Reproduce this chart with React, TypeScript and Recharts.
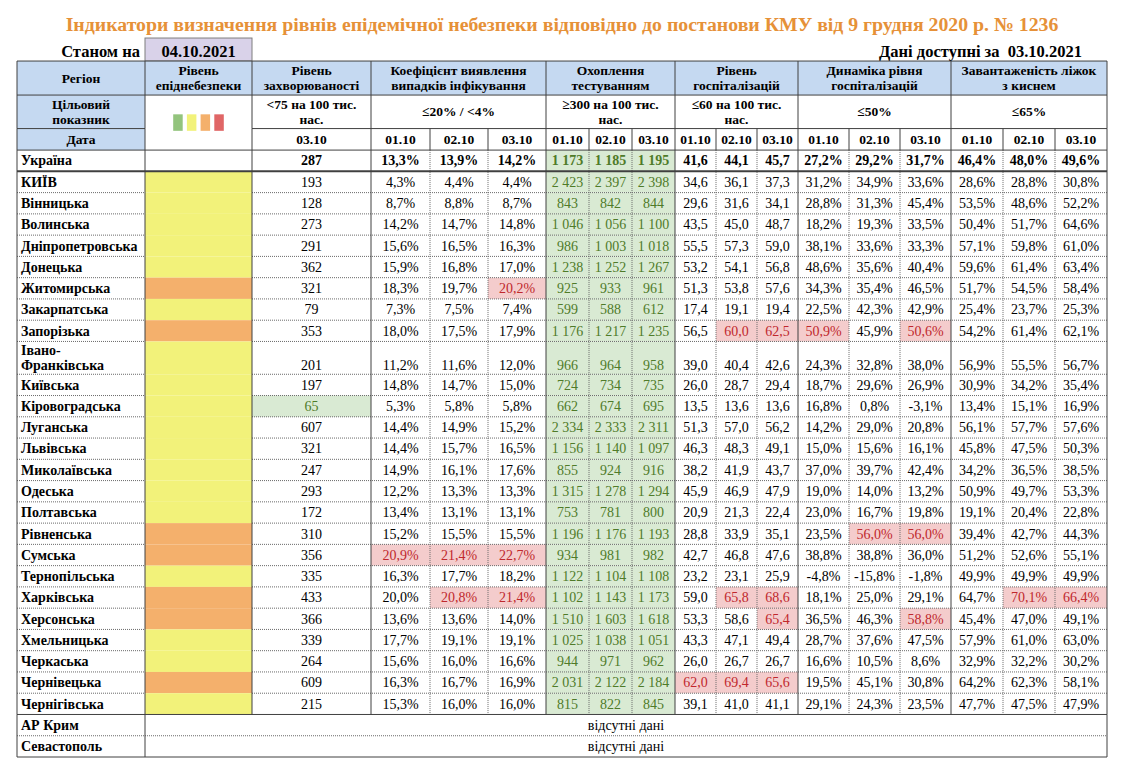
import React from 'react';
import { ComposedChart, XAxis, YAxis, ReferenceArea, ReferenceLine } from 'recharts';

// ---------- texts ----------
const TITLE = 'Індикатори визначення рівнів епідемічної небезпеки відповідно до постанови КМУ від 9 грудня 2020 р. № 1236';
const AS_OF_LABEL = 'Станом на';
const AS_OF_DATE = '04.10.2021';
const DATA_AVAILABLE = 'Дані доступні за \u00A003.10.2021';
const REGION_HEADER = 'Регіон';
const TARGET_HEADER = ['Цільовий', 'показник'];
const DATE_HEADER = 'Дата';
const MISSING_TEXT = 'відсутні дані';

const groupHeaders = [
  ['Рівень', 'епіднебезпеки'],
  ['Рівень', 'захворюваності'],
  ['Коефіцієнт виявлення', 'випадків інфікування'],
  ['Охоплення', 'тестуванням'],
  ['Рівень', 'госпіталізацій'],
  ['Динаміка рівня', 'госпіталізацій'],
  ['Завантаженість ліжок', 'з киснем'],
];
const targets = [
  ['<75 на 100 тис.', 'нас.'],
  ['≤20% / <4%'],
  ['≥300 на 100 тис.', 'нас.'],
  ['≤60 на 100 тис.', 'нас.'],
  ['≤50%'],
  ['≤65%'],
];
const incidenceDate = '03.10';
const dates = ['01.10', '02.10', '03.10'];

// ---------- data ----------
const regions = [
  'Україна', 'КИЇВ', 'Вінницька', 'Волинська', 'Дніпропетровська', 'Донецька', 'Житомирська',
  'Закарпатська', 'Запорізька', 'Івано-Франківська', 'Київська', 'Кіровоградська', 'Луганська',
  'Львівська', 'Миколаївська', 'Одеська', 'Полтавська', 'Рівненська', 'Сумська', 'Тернопільська',
  'Харківська', 'Херсонська', 'Хмельницька', 'Черкаська', 'Чернівецька', 'Чернігівська',
];
const dangerLevels = [
  'none', 'yellow', 'yellow', 'yellow', 'yellow', 'yellow', 'orange',
  'yellow', 'orange', 'yellow', 'yellow', 'yellow', 'yellow',
  'yellow', 'yellow', 'yellow', 'yellow', 'orange', 'orange', 'yellow',
  'orange', 'orange', 'yellow', 'yellow', 'orange', 'yellow',
];
const incidence = [287, 193, 128, 273, 291, 362, 321, 79, 353, 201, 197, 65, 607, 321, 247, 293, 172, 310, 356, 335, 433, 366, 339, 264, 609, 215];

const coef0110 = [13.3, 4.3, 8.7, 14.2, 15.6, 15.9, 18.3, 7.3, 18.0, 11.2, 14.8, 5.3, 14.4, 14.4, 14.9, 12.2, 13.4, 15.2, 20.9, 16.3, 20.0, 13.6, 17.7, 15.6, 16.3, 15.3];
const coef0210 = [13.9, 4.4, 8.8, 14.7, 16.5, 16.8, 19.7, 7.5, 17.5, 11.6, 14.7, 5.8, 14.9, 15.7, 16.1, 13.3, 13.1, 15.5, 21.4, 17.7, 20.8, 13.6, 19.1, 16.0, 16.7, 16.0];
const coef0310 = [14.2, 4.4, 8.7, 14.8, 16.3, 17.0, 20.2, 7.4, 17.9, 12.0, 15.0, 5.8, 15.2, 16.5, 17.6, 13.3, 13.1, 15.5, 22.7, 18.2, 21.4, 14.0, 19.1, 16.6, 16.9, 16.0];

const test0110 = [1173, 2423, 843, 1046, 986, 1238, 925, 599, 1176, 966, 724, 662, 2334, 1156, 855, 1315, 753, 1196, 934, 1122, 1102, 1510, 1025, 944, 2031, 815];
const test0210 = [1185, 2397, 842, 1056, 1003, 1252, 933, 588, 1217, 964, 734, 674, 2333, 1140, 924, 1278, 781, 1176, 981, 1104, 1143, 1603, 1038, 971, 2122, 822];
const test0310 = [1195, 2398, 844, 1100, 1018, 1267, 961, 612, 1235, 958, 735, 695, 2311, 1097, 916, 1294, 800, 1193, 982, 1108, 1173, 1618, 1051, 962, 2184, 845];

const hosp0110 = [41.6, 34.6, 29.6, 43.5, 55.5, 53.2, 51.3, 17.4, 56.5, 39.0, 26.0, 13.5, 51.3, 46.3, 38.2, 45.9, 20.9, 28.8, 42.7, 23.2, 59.0, 53.3, 43.3, 26.0, 62.0, 39.1];
const hosp0210 = [44.1, 36.1, 31.6, 45.0, 57.3, 54.1, 53.8, 19.1, 60.0, 40.4, 28.7, 13.6, 57.0, 48.3, 41.9, 46.9, 21.3, 33.9, 46.8, 23.1, 65.8, 58.6, 47.1, 26.7, 69.4, 41.0];
const hosp0310 = [45.7, 37.3, 34.1, 48.7, 59.0, 56.8, 57.6, 19.4, 62.5, 42.6, 29.4, 13.6, 56.2, 49.1, 43.7, 47.9, 22.4, 35.1, 47.6, 25.9, 68.6, 65.4, 49.4, 26.7, 65.6, 41.1];

const dyn0110 = [27.2, 31.2, 28.8, 18.2, 38.1, 48.6, 34.3, 22.5, 50.9, 24.3, 18.7, 16.8, 14.2, 15.0, 37.0, 19.0, 23.0, 23.5, 38.8, -4.8, 18.1, 36.5, 28.7, 16.6, 19.5, 29.1];
const dyn0210 = [29.2, 34.9, 31.3, 19.3, 33.6, 35.6, 35.4, 42.3, 45.9, 32.8, 29.6, 0.8, 29.0, 15.6, 39.7, 14.0, 16.7, 56.0, 38.8, -15.8, 25.0, 46.3, 37.6, 10.5, 45.1, 24.3];
const dyn0310 = [31.7, 33.6, 45.4, 33.5, 33.3, 40.4, 46.5, 42.9, 50.6, 38.0, 26.9, -3.1, 20.8, 16.1, 42.4, 13.2, 19.8, 56.0, 36.0, -1.8, 29.1, 58.8, 47.5, 8.6, 30.8, 23.5];

const oxy0110 = [46.4, 28.6, 53.5, 50.4, 57.1, 59.6, 51.7, 25.4, 54.2, 56.9, 30.9, 13.4, 56.1, 45.8, 34.2, 50.9, 19.1, 39.4, 51.2, 49.9, 64.7, 45.4, 57.9, 32.9, 64.2, 47.7];
const oxy0210 = [48.0, 28.8, 48.6, 51.7, 59.8, 61.4, 54.5, 23.7, 61.4, 55.5, 34.2, 15.1, 57.7, 47.5, 36.5, 49.7, 20.4, 42.7, 52.6, 49.9, 70.1, 47.0, 61.0, 32.2, 62.3, 47.5];
const oxy0310 = [49.6, 30.8, 52.2, 64.6, 61.0, 63.4, 58.4, 25.3, 62.1, 56.7, 35.4, 16.9, 57.6, 50.3, 38.5, 53.3, 22.8, 44.3, 55.1, 49.9, 66.4, 49.1, 63.0, 30.2, 58.1, 47.9];

const missingRegions = ['АР Крим', 'Севастополь'];
const legendLevels = ['green', 'yellow', 'orange', 'red'];

// ---------- styles / layout ----------
const FONT = "'Liberation Serif', 'Times New Roman', serif";
const ORANGE_TITLE = '#E69138';
const HEADER_BLUE = '#C5D9F1';
const LAVENDER = '#D9D2E9';
const GOOD_FILL = '#D9EAD3';
const GOOD_TEXT = '#4F7B29';
const BAD_FILL = '#F4CCCC';
const BAD_TEXT = '#C0282D';
const SOLID = '#404040';
const DOTTED = '#6a6a6a';
const LEVEL_COLORS: Record<string, string> = {
  none: '#FFFFFF', green: '#93C47D', yellow: '#F2F27A', orange: '#F4B06C', red: '#E06666',
};

// column widths (table layout units), group spans by column index
const COL_W = [128, 107, 119, 59, 58, 58, 43, 43, 43, 41, 41, 41, 51, 51, 51, 52, 52, 52];
const colEdges = COL_W.reduce<number[]>((acc, w) => [...acc, acc[acc.length - 1] + w], [0]);
const TABLE_W = colEdges[colEdges.length - 1];
const GROUP_SPANS: [number, number][] = [[1, 2], [2, 3], [3, 6], [6, 9], [9, 12], [12, 15], [15, 18]];
const GROUP_EDGES = [0, 1, 2, 3, 6, 9, 12, 15, 18];

const ROW_H = 21.25;
const TALL_H = 32.8;
const regionLines = (name: string) => {
  const i = name.indexOf('-');
  return i > 0 ? [name.slice(0, i + 1), name.slice(i + 1)] : [name];
};
const rowHeights = [
  38, 23, 34, 33.5, 21.5, // title, as-of, header rows
  ...regions.map((n) => (regionLines(n).length > 1 ? TALL_H : ROW_H)),
  ...missingRegions.map(() => ROW_H),
];
const rowEdges = rowHeights.reduce<number[]>((acc, h) => [...acc, acc[acc.length - 1] + h], [0]);
const TABLE_H = rowEdges[rowEdges.length - 1];
const FIRST_DATA_ROW = 5;
const FIRST_MISSING_ROW = FIRST_DATA_ROW + regions.length;

const CHART_W = 1131;
const CHART_H = 774;
const MARGIN = { top: 0, left: 17, right: CHART_W - 17 - TABLE_W, bottom: Math.round(CHART_H - TABLE_H) };

// ---------- formatting ----------
const fmtPct = (v: number) => v.toFixed(1).replace('.', ',') + '%';
const fmtDec = (v: number) => v.toFixed(1).replace('.', ',');
const fmtInt = (v: number) => {
  const s = String(v);
  return s.length > 3 ? s.slice(0, -3) + '\u00A0' + s.slice(-3) : s;
};

// ---------- cells ----------
type Cell = {
  key: string; c0: number; c1: number; r0: number; r1: number;
  lines?: string[]; fill?: string; color?: string; bold?: boolean;
  align?: 'left' | 'center' | 'right'; valign?: 'middle' | 'bottom';
  size?: number; pad?: number; padB?: number; lineH?: number; border?: string; legend?: boolean;
};

const cells: Cell[] = [];
cells.push({ key: 'title', c0: 0, c1: 18, r0: 0, r1: 1, lines: [TITLE], color: ORANGE_TITLE, bold: true, size: 19.8, valign: 'bottom', padB: 7 });
cells.push({ key: 'asofL', c0: 0, c1: 1, r0: 1, r1: 2, lines: [AS_OF_LABEL], bold: true, size: 16.5, align: 'right', pad: 5, valign: 'bottom', padB: 4.5 });
cells.push({ key: 'asofD', c0: 1, c1: 2, r0: 1, r1: 2, lines: [AS_OF_DATE], bold: true, size: 16.5, fill: LAVENDER, border: '#7f7f7f', valign: 'bottom', padB: 4.5 });
cells.push({ key: 'avail', c0: 12, c1: 18, r0: 1, r1: 2, lines: [DATA_AVAILABLE], bold: true, size: 16.5, align: 'right', pad: 25, valign: 'bottom', padB: 4.5 });

// header row 1
const HS = 13.5;
cells.push({ key: 'h-region', c0: 0, c1: 1, r0: 2, r1: 3, lines: [REGION_HEADER], fill: HEADER_BLUE, bold: true, size: HS });
GROUP_SPANS.forEach(([a, b], g) => {
  cells.push({ key: `h-g${g}`, c0: a, c1: b, r0: 2, r1: 3, lines: groupHeaders[g], fill: HEADER_BLUE, bold: true, size: HS, lineH: 15.3 });
});
// header row 2
cells.push({ key: 'h-target', c0: 0, c1: 1, r0: 3, r1: 4, lines: TARGET_HEADER, fill: HEADER_BLUE, bold: true, size: HS, lineH: 15.8 });
cells.push({ key: 'h-legend', c0: 1, c1: 2, r0: 3, r1: 5, fill: '#FFFFFF', legend: true });
GROUP_SPANS.slice(1).forEach(([a, b], g) => {
  cells.push({ key: `h-t${g}`, c0: a, c1: b, r0: 3, r1: 4, lines: targets[g], fill: '#FFFFFF', bold: true, size: HS, lineH: 15.8 });
});
// header row 3
cells.push({ key: 'h-date', c0: 0, c1: 1, r0: 4, r1: 5, lines: [DATE_HEADER], fill: HEADER_BLUE, bold: true, size: HS });
cells.push({ key: 'h-d-inc', c0: 2, c1: 3, r0: 4, r1: 5, lines: [incidenceDate], fill: '#FFFFFF', bold: true, size: HS });
GROUP_SPANS.slice(2).forEach(([a], g) => {
  dates.forEach((d, k) => {
    cells.push({ key: `h-d${g}-${k}`, c0: a + k, c1: a + k + 1, r0: 4, r1: 5, lines: [d], fill: '#FFFFFF', bold: true, size: HS });
  });
});

// data rows
const VS = 14;
const valueGroups: { vals: number[][]; fmt: (v: number) => string; bad: (v: number) => boolean; good?: boolean }[] = [
  { vals: [coef0110, coef0210, coef0310], fmt: fmtPct, bad: (v) => v > 20 },
  { vals: [test0110, test0210, test0310], fmt: fmtInt, bad: () => false, good: true },
  { vals: [hosp0110, hosp0210, hosp0310], fmt: fmtDec, bad: (v) => v >= 60 },
  { vals: [dyn0110, dyn0210, dyn0310], fmt: fmtPct, bad: (v) => v > 50 },
  { vals: [oxy0110, oxy0210, oxy0310], fmt: fmtPct, bad: (v) => v > 65 },
];
regions.forEach((name, i) => {
  const r = FIRST_DATA_ROW + i;
  const bold = i === 0;
  const lines = regionLines(name);
  const valign: 'middle' | 'bottom' = lines.length > 1 ? 'bottom' : 'middle';
  const base = { r0: r, r1: r + 1, size: VS, bold, valign, padB: 4 };
  cells.push({ key: `n${i}`, c0: 0, c1: 1, ...base, lines, align: 'left', pad: 4, bold: true, valign: 'middle', lineH: 15.4 });
  cells.push({ key: `l${i}`, c0: 1, c1: 2, ...base, fill: LEVEL_COLORS[dangerLevels[i]] });
  const incGood = incidence[i] < 75;
  cells.push({ key: `i${i}`, c0: 2, c1: 3, ...base, lines: [String(incidence[i])], fill: incGood ? GOOD_FILL : undefined, color: incGood ? GOOD_TEXT : undefined });
  valueGroups.forEach((grp, g) => {
    const start = GROUP_SPANS[g + 2][0];
    grp.vals.forEach((arr, k) => {
      const v = arr[i];
      const isBad = grp.bad(v);
      cells.push({
        key: `v${i}-${g}-${k}`, c0: start + k, c1: start + k + 1, ...base,
        lines: [grp.fmt(v)],
        fill: grp.good ? GOOD_FILL : isBad ? BAD_FILL : undefined,
        color: grp.good ? GOOD_TEXT : isBad ? BAD_TEXT : undefined,
      });
    });
  });
});
missingRegions.forEach((name, j) => {
  const r = FIRST_MISSING_ROW + j;
  cells.push({ key: `m${j}`, c0: 0, c1: 1, r0: r, r1: r + 1, lines: [name], bold: true, align: 'left', pad: 4, size: VS });
  cells.push({ key: `mv${j}`, c0: 1, c1: 18, r0: r, r1: r + 1, lines: [MISSING_TEXT], size: VS });
});

// ---------- grid lines ----------
type Seg = { key: string; x1: number; y1: number; x2: number; y2: number; dotted?: boolean; w?: number };
const segs: Seg[] = [];
const hLine = (key: string, r: number, c0: number, c1: number, dotted = false, w = 1) =>
  segs.push({ key, x1: colEdges[c0], x2: colEdges[c1], y1: rowEdges[r], y2: rowEdges[r], dotted, w });
const vLine = (key: string, c: number, r0: number, r1: number, dotted = false) =>
  segs.push({ key, x1: colEdges[c], x2: colEdges[c], y1: rowEdges[r0], y2: rowEdges[r1], dotted });

// dotted first
for (let c = 0; c <= 18; c++) {
  if (!GROUP_EDGES.includes(c)) vLine(`vd${c}`, c, FIRST_DATA_ROW, FIRST_MISSING_ROW, true);
}
for (let r = FIRST_DATA_ROW + 2; r < FIRST_MISSING_ROW; r++) {
  hLine(`hd${r}a`, r, 0, 1, true);
  hLine(`hd${r}b`, r, 2, 18, true);
}
hLine('hdm', FIRST_MISSING_ROW + 1, 0, 18, true);
// solid
hLine('hs2', 2, 0, 18);
hLine('hs3', 3, 0, 18);
hLine('hs4a', 4, 0, 1);
hLine('hs4b', 4, 2, 18);
hLine('hs5', 5, 0, 18);
hLine('hs6', FIRST_DATA_ROW + 1, 0, 18, false, 2);
hLine('hsM', FIRST_MISSING_ROW, 0, 18);
hLine('hsE', FIRST_MISSING_ROW + 2, 0, 18);
GROUP_EDGES.forEach((c) => vLine(`vsh${c}`, c, 2, 4));
for (let c = 0; c <= 18; c++) vLine(`vsd${c}`, c, 4, 5);
GROUP_EDGES.forEach((c) => vLine(`vsb${c}`, c, FIRST_DATA_ROW, FIRST_MISSING_ROW));
[0, 1, 18].forEach((c) => vLine(`vsm${c}`, c, FIRST_MISSING_ROW, FIRST_MISSING_ROW + 2));

// ---------- cell renderer ----------
function CellShape(props: any) {
  const { x, y, width, height, cell } = props as { x: number; y: number; width: number; height: number; cell: Cell };
  const size = cell.size ?? 14;
  const lh = cell.lineH ?? size * 1.12;
  const lines = cell.lines ?? [];
  const pad = cell.pad ?? 3;
  const anchor = cell.align === 'left' ? 'start' : cell.align === 'right' ? 'end' : 'middle';
  const tx = cell.align === 'left' ? x + pad : cell.align === 'right' ? x + width - pad : x + width / 2;
  let first: number;
  if (cell.valign === 'bottom') {
    first = y + height - (cell.padB ?? 4) - (lines.length - 1) * lh;
  } else {
    first = y + height / 2 - ((lines.length - 1) * lh) / 2 + size * 0.34;
  }
  return (
    <g>
      {cell.fill && (
        <rect x={x} y={y} width={width} height={height} fill={cell.fill}
          stroke={cell.border ?? 'none'} strokeWidth={cell.border ? 1 : 0} />
      )}
      {cell.legend &&
        legendLevels.map((lv, k) => {
          const bw = 9.5, gap = 4.2, bh = 16.5;
          const total = legendLevels.length * bw + (legendLevels.length - 1) * gap;
          return (
            <rect key={lv} x={x + width / 2 - total / 2 + k * (bw + gap)} y={y + height / 2 - bh / 2}
              width={bw} height={bh} fill={LEVEL_COLORS[lv]} />
          );
        })}
      {lines.map((ln, k) => (
        <text key={k} x={tx} y={first + k * lh} textAnchor={anchor} fontFamily={FONT} fontSize={size}
          fontWeight={cell.bold ? 700 : 400} fill={cell.color ?? '#000'}>
          {ln}
        </text>
      ))}
    </g>
  );
}

export default function App() {
  return (
    <div style={{ position: 'absolute', left: 0, top: 0, width: CHART_W, height: CHART_H, background: '#fff' }}>
      <ComposedChart width={CHART_W} height={CHART_H} margin={MARGIN} data={[]}>
        <XAxis type="number" dataKey="x" domain={[0, TABLE_W]} allowDataOverflow hide />
        <YAxis type="number" dataKey="y" domain={[0, TABLE_H]} allowDataOverflow reversed hide />
        {cells.map((c) => (
          <ReferenceArea
            key={c.key}
            x1={colEdges[c.c0]} x2={colEdges[c.c1]} y1={rowEdges[c.r0]} y2={rowEdges[c.r1]}
            ifOverflow="visible"
            isFront
            shape={(p: any) => <CellShape {...p} cell={c} />}
          />
        ))}
        {segs.map((s) => (
          <ReferenceLine
            key={s.key}
            segment={[{ x: s.x1, y: s.y1 }, { x: s.x2, y: s.y2 }]}
            stroke={s.dotted ? DOTTED : SOLID}
            strokeWidth={s.w ?? 1}
            strokeDasharray={s.dotted ? '1 1' : undefined}
            ifOverflow="visible"
            isFront
          />
        ))}
      </ComposedChart>
    </div>
  );
}
